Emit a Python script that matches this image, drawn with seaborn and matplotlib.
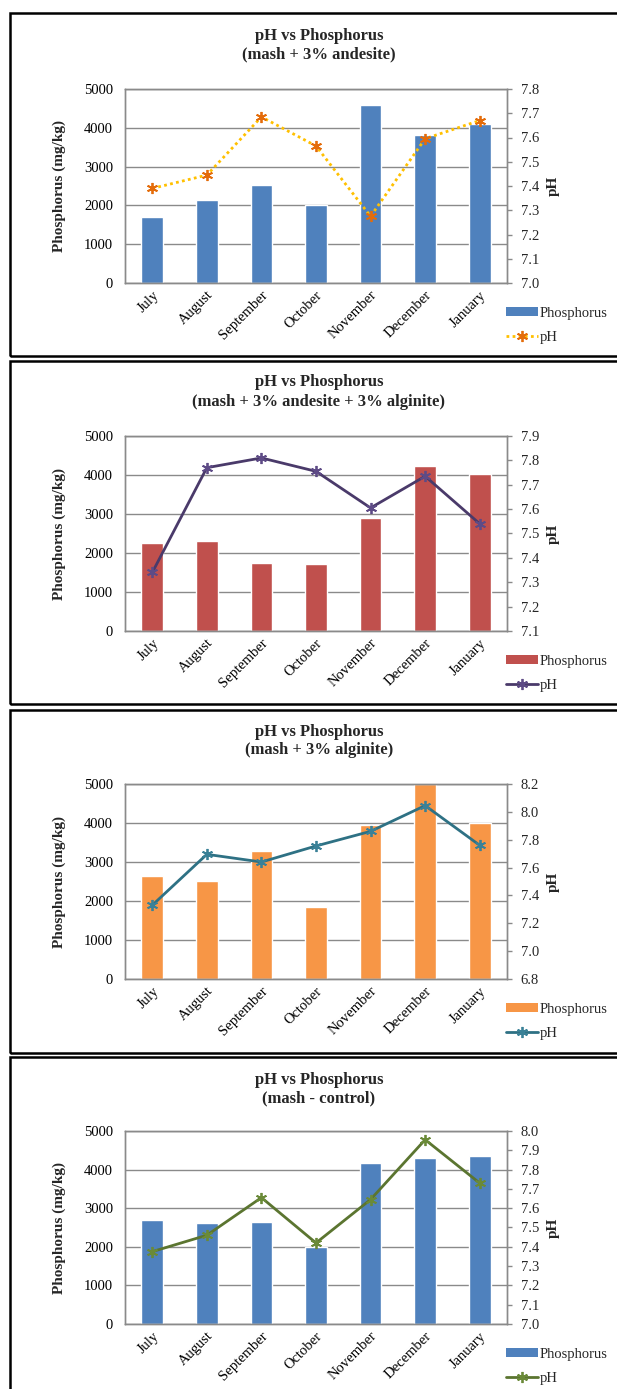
import matplotlib
matplotlib.use("Agg")
import numpy as np
import matplotlib.pyplot as plt
import seaborn as sns
from matplotlib.patches import Rectangle
from matplotlib.lines import Line2D

# ---------------- data ----------------
months = ["July", "August", "September", "October", "November", "December", "January"]

p_andesite = [1700, 2145, 2530, 2005, 4585, 3805, 4100]
ph_andesite = [7.39, 7.445, 7.685, 7.565, 7.275, 7.595, 7.67]

p_both = [2265, 2320, 1735, 1720, 2890, 4240, 4025]
ph_both = [7.34, 7.77, 7.81, 7.755, 7.605, 7.735, 7.54]

p_alginite = [2635, 2515, 3290, 1840, 3940, 5000, 3990]
ph_alginite = [7.33, 7.695, 7.64, 7.755, 7.86, 8.045, 7.76]

p_control = [2700, 2610, 2645, 1990, 4180, 4310, 4355]
ph_control = [7.375, 7.46, 7.655, 7.42, 7.645, 7.955, 7.73]

subtitles = ["(mash + 3% andesite)", "(mash + 3% andesite + 3% alginite)",
             "(mash + 3% alginite)", "(mash - control)"]
ph_ranges = [(7.0, 7.8, 0.1), (7.1, 7.9, 0.1), (6.8, 8.2, 0.2), (7.0, 8.0, 0.1)]
p_ticks = [0, 1000, 2000, 3000, 4000, 5000]

# ---------------- style ----------------
sns.set_theme(style="white")
plt.rcParams["font.family"] = ["Liberation Serif", "DejaVu Serif"]

W, H = 617, 1389
fig = plt.figure(figsize=(W / 100, H / 100), dpi=100)
fig.patch.set_facecolor("white")

def fx(px):
    return px / W

def fy(py):
    return 1 - py / H

GRID = "#8a8a8a"
AX_L, AX_R = 125, 507
AX_W = AX_R - AX_L

panels = [
    dict(p=p_andesite, ph=ph_andesite, bar="#4F81BD", line="#FFC000", mk="#E46C0A",
         ls=(0, (1, 1.2)), top=89, bottom=283, t=45, box=(13, 356)),
    dict(p=p_both, ph=ph_both, bar="#C0504D", line="#4A3A6A", mk="#5E4B86",
         ls="-", top=436, bottom=631, t=392, box=(361, 704)),
    dict(p=p_alginite, ph=ph_alginite, bar="#F79646", line="#2E7184", mk="#3A8197",
         ls="-", top=784, bottom=979, t=741, box=(710, 1053)),
    dict(p=p_control, ph=ph_control, bar="#4F81BD", line="#5B7530", mk="#6A8A38",
         ls="-", top=1131, bottom=1324, t=1089, box=(1057, 1420)),
]

for i, pn in enumerate(panels):
    # border box
    y0, y1 = pn["box"]
    fig.patches.append(Rectangle((fx(10), fy(y1)), fx(700), (y1 - y0) / H,
                                 transform=fig.transFigure, fill=False,
                                 edgecolor="black", linewidth=1.8, zorder=0))

    ah = pn["bottom"] - pn["top"]
    ax = fig.add_axes([fx(AX_L), fy(pn["bottom"]), AX_W / W, ah / H])
    sns.barplot(x=months, y=pn["p"], color=pn["bar"], saturation=1, width=0.4,
                ax=ax, errorbar=None, zorder=2)
    ax.set_ylim(0, 5000)
    ax.set_yticks(p_ticks)
    ax.set_xlim(-0.5, 6.5)
    ax.set_axisbelow(True)
    ax.yaxis.grid(True, color=GRID, linewidth=1.0)
    ax.xaxis.grid(False)
    for s in ax.spines.values():
        s.set_color(GRID)
        s.set_linewidth(1.0)
    ax.tick_params(axis="both", length=0, labelsize=10.5, colors="black")
    ax.tick_params(axis="y", pad=8.6)
    ax.set_xticks(range(len(months)))
    ax.set_xticklabels(months, rotation=45, ha="right", rotation_mode="anchor",
                       fontsize=10.5)
    ax.tick_params(axis="x", pad=4)
    ax.set_xlabel("")
    ax.set_ylabel("Phosphorus (mg/kg)", fontsize=11, fontweight="bold")
    ax.yaxis.set_label_coords(-(AX_L - 66) / AX_W, 0.5)

    ax2 = ax.twinx()
    lo, hi, st = ph_ranges[i]
    sns.pointplot(x=months, y=pn["ph"], ax=ax2, color=pn["line"], errorbar=None,
                  marker=(6, 2, 0), linestyle=pn["ls"], linewidth=2.0,
                  markersize=8, markeredgewidth=1.3)
    for ln in ax2.get_lines():
        ln.set_markeredgecolor(pn["mk"])
    ax2.set_xlim(-0.5, 6.5)
    ax2.set_ylim(lo, hi)
    ticks = np.arange(lo, hi + st / 2, st)
    ax2.set_yticks(np.round(ticks, 1))
    ax2.set_yticklabels([f"{v:.1f}" for v in ticks])
    ax2.grid(False)
    for s in ax2.spines.values():
        s.set_color(GRID)
        s.set_linewidth(1.0)
    ax2.tick_params(axis="y", length=3.6, width=1, color=GRID, direction="out",
                    labelsize=10.5, pad=6.3)
    ax2.set_ylabel("pH", fontsize=11, fontweight="bold")
    ax2.yaxis.set_label_coords((547 - AX_L) / AX_W, 0.5)
    ax2.set_xlabel("")

    # title
    fig.text(fx(319), fy(pn["t"]), "pH vs Phosphorus\n" + subtitles[i],
             ha="center", va="center", fontsize=12, fontweight="bold",
             linespacing=1.25)

    # legend
    handles = [Rectangle((0, 0), 1, 1, facecolor=pn["bar"], edgecolor="none"),
               Line2D([], [], color=pn["line"], linestyle=pn["ls"], linewidth=2.0,
                      marker=(6, 2, 0), markersize=8, markeredgewidth=1.3,
                      markeredgecolor=pn["mk"])]
    ax.legend(handles, ["Phosphorus", "pH"], loc="upper left",
              bbox_to_anchor=((500 - AX_L) / AX_W, -(301 - 283) / ah),
              frameon=False, fontsize=10.5, handlelength=2.2, handleheight=0.6,
              handletextpad=0.1, labelspacing=0.75, borderaxespad=0)

fig.savefig("out.png", dpi=100, facecolor="white")
